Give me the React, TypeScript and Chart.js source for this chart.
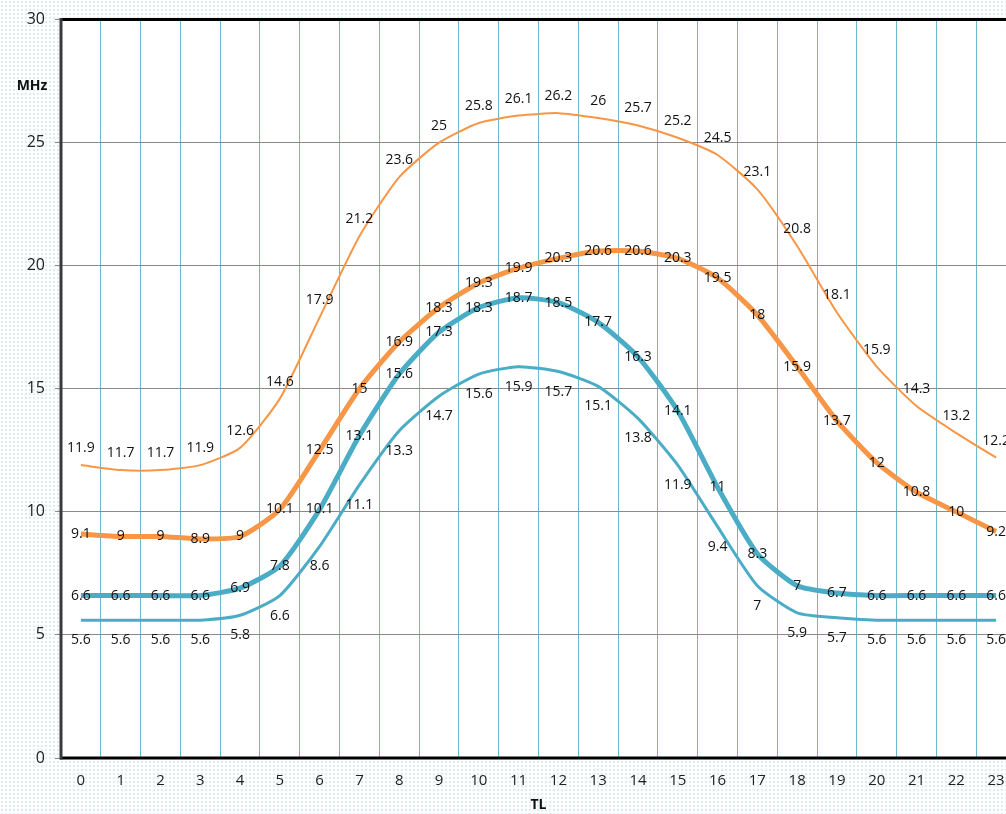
import React, { useEffect, useRef } from "react";
import { Chart, registerables } from "chart.js";

Chart.register(...registerables);

const hours = ["0","1","2","3","4","5","6","7","8","9","10","11","12","13","14","15","16","17","18","19","20","21","22","23"];
const orangeThin = [11.9, 11.7, 11.7, 11.9, 12.6, 14.6, 17.9, 21.2, 23.6, 25, 25.8, 26.1, 26.2, 26, 25.7, 25.2, 24.5, 23.1, 20.8, 18.1, 15.9, 14.3, 13.2, 12.2];
const orangeThick = [9.1, 9, 9, 8.9, 9, 10.1, 12.5, 15, 16.9, 18.3, 19.3, 19.9, 20.3, 20.6, 20.6, 20.3, 19.5, 18, 15.9, 13.7, 12, 10.8, 10, 9.2];
const blueThick = [6.6, 6.6, 6.6, 6.6, 6.9, 7.8, 10.1, 13.1, 15.6, 17.3, 18.3, 18.7, 18.5, 17.7, 16.3, 14.1, 11, 8.3, 7, 6.7, 6.6, 6.6, 6.6, 6.6];
const blueThin = [5.6, 5.6, 5.6, 5.6, 5.8, 6.6, 8.6, 11.1, 13.3, 14.7, 15.6, 15.9, 15.7, 15.1, 13.8, 11.9, 9.4, 7, 5.9, 5.7, 5.6, 5.6, 5.6, 5.6];
const yTitle = "MHz";
const xTitle = "TL";

const FONT = "'Open Sans', 'Noto Sans', sans-serif";
const labelOffsets = [-17, 0, 0, 20];

const decorPlugin = {
  id: "decor",
  beforeDraw(chart: any) {
    const { ctx, chartArea } = chart;
    ctx.save();
    ctx.fillStyle = "#ffffff";
    ctx.fillRect(chartArea.left, chartArea.top, chartArea.right - chartArea.left, chartArea.bottom - chartArea.top);
    ctx.restore();
  },
  beforeDatasetsDraw(chart: any) {
    const { ctx, chartArea } = chart;
    ctx.save();
    ctx.strokeStyle = "#000000";
    ctx.lineWidth = 3;
    ctx.beginPath();
    ctx.moveTo(chartArea.left - 1, chartArea.top);
    ctx.lineTo(chartArea.right + 20, chartArea.top);
    ctx.moveTo(chartArea.left - 1, chartArea.bottom);
    ctx.lineTo(chartArea.right + 20, chartArea.bottom);
    ctx.stroke();
    ctx.strokeStyle = "#3a3a3a";
    ctx.beginPath();
    ctx.moveTo(chartArea.left, chartArea.top - 1.5);
    ctx.lineTo(chartArea.left, chartArea.bottom + 1.5);
    ctx.stroke();
    ctx.restore();
  },
  afterDatasetsDraw(chart: any) {
    const { ctx, chartArea } = chart;
    ctx.save();
    ctx.font = "14px " + FONT;
    ctx.fillStyle = "#111111";
    ctx.textAlign = "center";
    ctx.textBaseline = "middle";
    chart.data.datasets.forEach((ds: any, i: number) => {
      const meta = chart.getDatasetMeta(i);
      meta.data.forEach((pt: any, j: number) => {
        ctx.fillText(String(ds.data[j]), pt.x, pt.y + labelOffsets[i]);
      });
    });
    ctx.font = "bold 14px " + FONT;
    ctx.fillStyle = "#111111";
    ctx.fillText(yTitle, 32, 86);
    ctx.fillText(xTitle, (chartArea.left + chartArea.right) / 2, 805);
    ctx.restore();
  },
};

export default function App() {
  const ref = useRef<HTMLCanvasElement>(null);
  useEffect(() => {
    if (!ref.current) return;
    Chart.defaults.font.family = FONT;
    const chart = new Chart(ref.current, {
      type: "line",
      data: {
        labels: hours,
        datasets: [
          { data: orangeThin, borderColor: "#F79646", borderWidth: 2, pointRadius: 0, tension: 0.2, fill: false },
          { data: orangeThick, borderColor: "#F79646", borderWidth: 5, pointRadius: 0, tension: 0.2, fill: false },
          { data: blueThick, borderColor: "#4BACC6", borderWidth: 5, pointRadius: 0, tension: 0.2, fill: false },
          { data: blueThin, borderColor: "#4BACC6", borderWidth: 3, pointRadius: 0, tension: 0.2, fill: false },
        ],
      },
      options: {
        responsive: false,
        animation: false,
        layout: { padding: { left: 0, top: 19, right: 14, bottom: 0 } },
        plugins: { legend: { display: false }, tooltip: { enabled: false } },
        scales: {
          x: {
            type: "category",
            offset: true,
            grid: { offset: true, color: "#6cb9cd", lineWidth: 1, drawTicks: false },
            border: { display: false },
            ticks: { color: "#222222", font: { size: 15, family: FONT }, padding: 14, maxRotation: 0, autoSkip: false },
            afterFit(scale: any) { scale.height = 56; },
          },
          y: {
            min: 0,
            max: 30,
            grid: { color: "#8a8a8a", lineWidth: 1, tickLength: 6, drawTicks: true },
            border: { display: false },
            ticks: { stepSize: 5, color: "#222222", font: { size: 16, family: FONT }, padding: 10 },
            afterFit(scale: any) { scale.width = 61; },
          },
        },
      },
      plugins: [decorPlugin],
    });
    return () => chart.destroy();
  }, []);
  return (
    <div
      style={{
        position: "absolute",
        left: 0,
        top: 0,
        width: 1006,
        height: 814,
        overflow: "hidden",
        backgroundColor: "#ffffff",
        backgroundImage: "radial-gradient(circle, #b3d6e1 0.6px, transparent 0.8px)",
        backgroundSize: "4px 4px",
      }}
    >
      <canvas ref={ref} width={1030} height={814} style={{ display: "block" }} />
    </div>
  );
}
